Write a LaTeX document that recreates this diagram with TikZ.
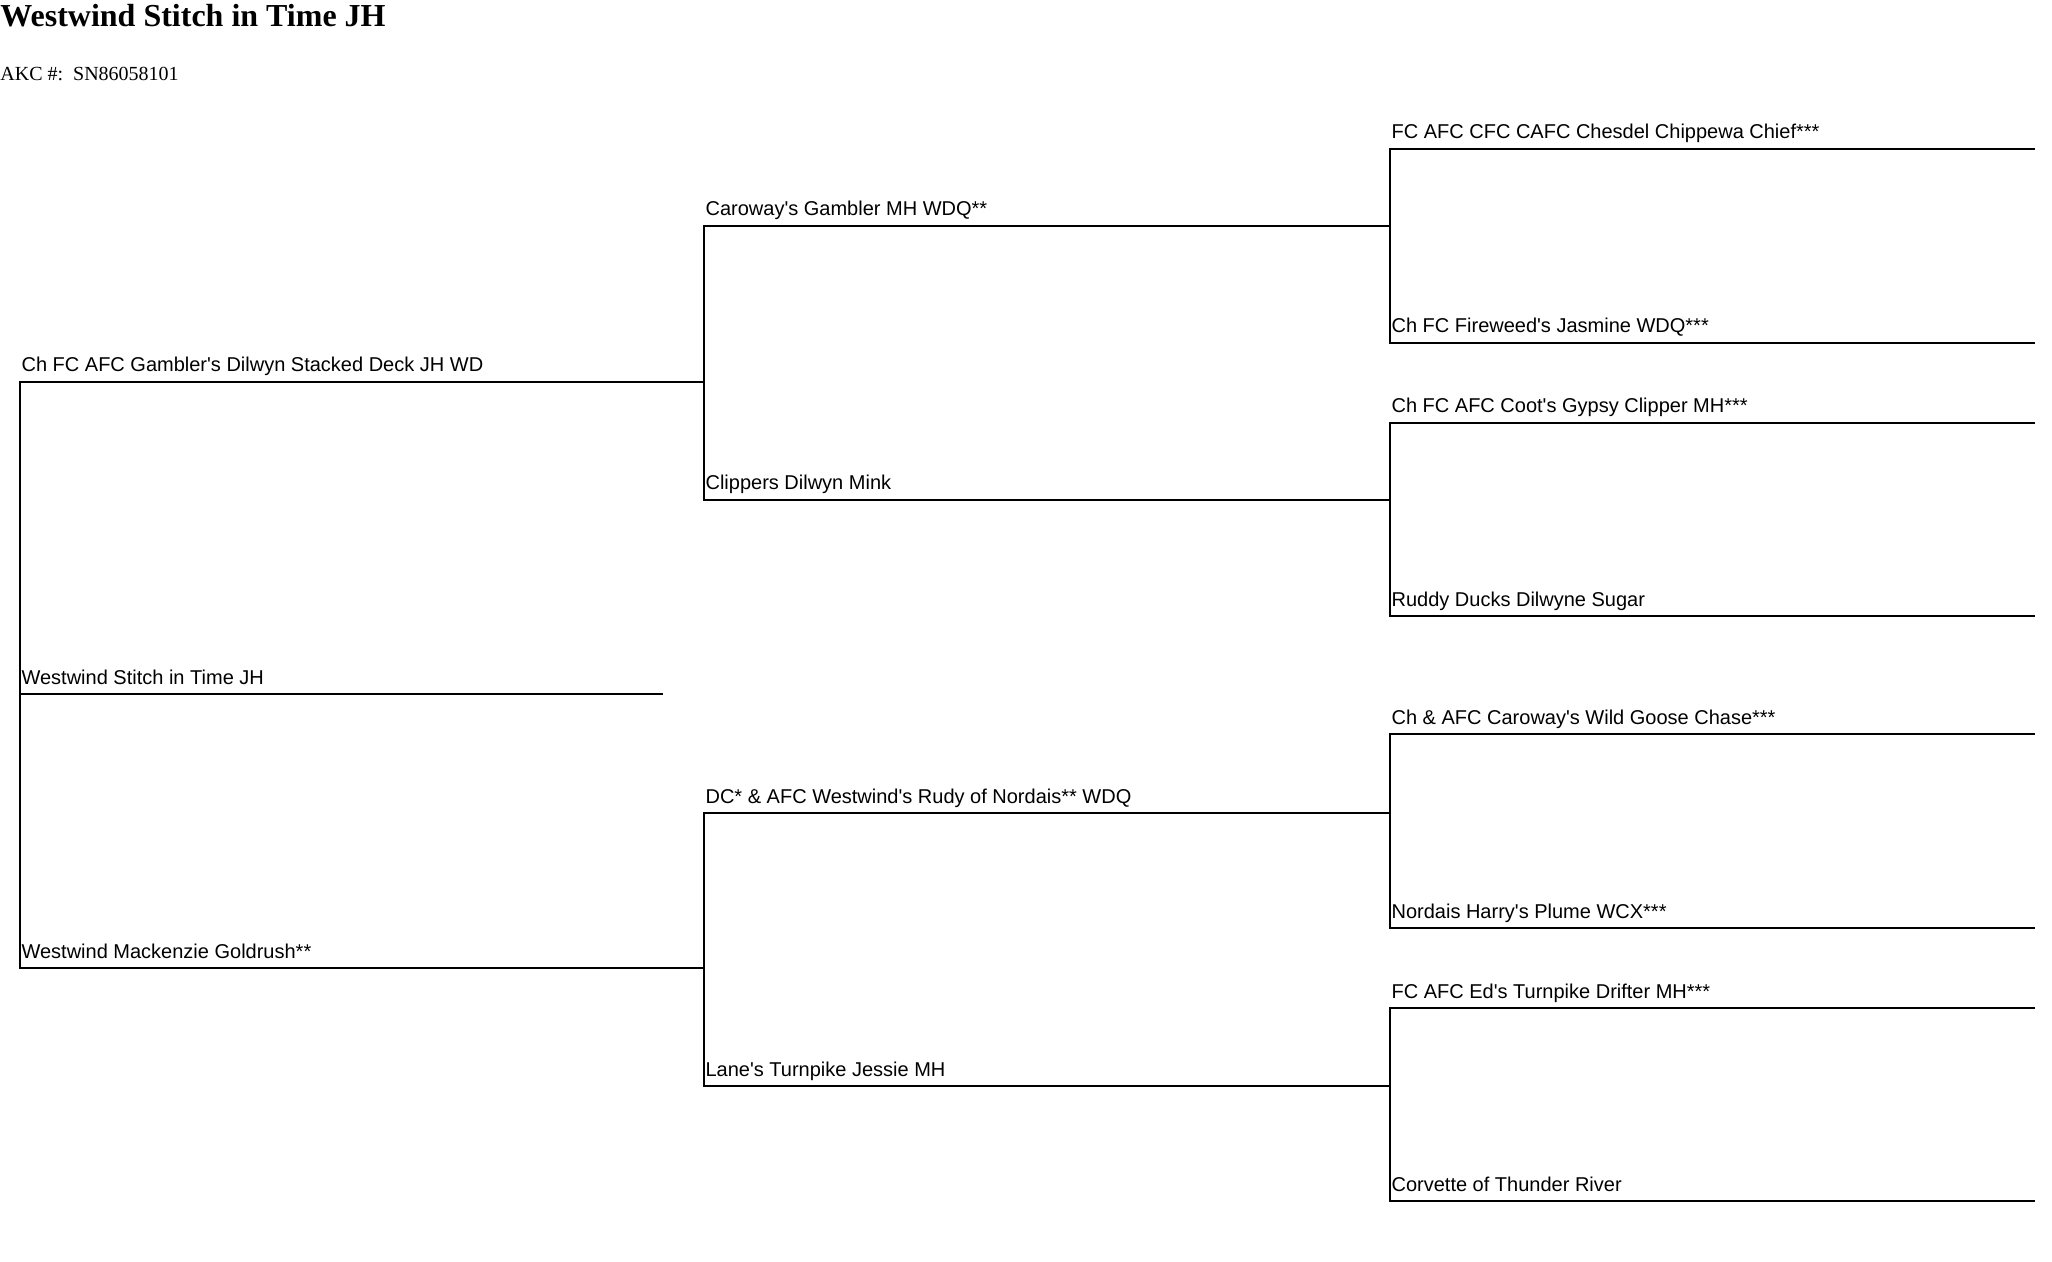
\documentclass[tikz,border=0pt]{standalone}
\usepackage{fontspec}
\setmainfont{Liberation Serif}
\setsansfont{Liberation Sans}
\usetikzlibrary{positioning}
\newcommand{\ap}{\textquotesingle}
\tikzset{
  title/.style={anchor=base west, inner sep=0pt, font=\bfseries\fontsize{16}{19}\selectfont},
  akc/.style={anchor=base west, inner sep=0pt, font=\fontsize{10}{12}\selectfont},
  dog/.style={anchor=base west, inner sep=0pt, font=\sffamily\fontsize{10}{12}\selectfont},
  bracket/.style={line width=1pt, line join=miter}
}
\begin{document}
\begin{tikzpicture}[x=0.5pt, y=-0.5pt]
\useasboundingbox (0,0) rectangle (2052,1262);
\node[title] (title) at (0,27) {Westwind Stitch in Time JH};
\node[akc] (akcno) at (0,81) {AKC \#:\ \ SN86058101};
% line start / end points
\coordinate (dog) at (20,694);    \coordinate (dogE) at (663,694);
\coordinate (s) at (20,382);      \coordinate (sE) at (704,382);
\coordinate (d) at (20,968);      \coordinate (dE) at (704,968);
\coordinate (ss) at (704,226);    \coordinate (ssE) at (1390,226);
\coordinate (sd) at (704,500);    \coordinate (sdE) at (1390,500);
\coordinate (ds) at (704,813);    \coordinate (dsE) at (1390,813);
\coordinate (dd) at (704,1086);   \coordinate (ddE) at (1390,1086);
\foreach \n/\y in {sss/149, ssd/343, sds/423, sdd/616, dss/734, dsd/928, dds/1008, ddd/1201}
  \coordinate (\n) at (1390,\y);
% brackets
\draw[bracket] (dog) -- (dogE);
\draw[bracket] (sE) -- (s) -- (d) -- (dE);
\draw[bracket] (ssE) -- (ss) -- (sd) -- (sdE);
\draw[bracket] (dsE) -- (ds) -- (dd) -- (ddE);
\foreach \a/\b in {sss/ssd, sds/sdd, dss/dsd, dds/ddd}
  \draw[bracket] ([xshift=322.5pt]\a) -- (\a) -- (\b) -- ([xshift=322.5pt]\b);
% names
\tikzset{lbl/.style={dog, xshift=0.6pt, yshift=5pt}}
\node[lbl] (dogL) at (dog) {Westwind Stitch in Time JH};
\node[lbl] (sL) at (s) {Ch FC AFC Gambler\ap s Dilwyn Stacked Deck JH WD};
\node[lbl] (dL) at (d) {Westwind Mackenzie Goldrush**};
\node[lbl] (ssL) at (ss) {Caroway\ap s Gambler MH WDQ**};
\node[lbl] (sdL) at (sd) {Clippers Dilwyn Mink};
\node[lbl] (dsL) at (ds) {DC* \& AFC Westwind\ap s Rudy of Nordais** WDQ};
\node[lbl] (ddL) at (dd) {Lane\ap s Turnpike Jessie MH};
\node[lbl] (sssL) at (sss) {FC AFC CFC CAFC Chesdel Chippewa Chief***};
\node[lbl] (ssdL) at (ssd) {Ch FC Fireweed\ap s Jasmine WDQ***};
\node[lbl] (sdsL) at (sds) {Ch FC AFC Coot\ap s Gypsy Clipper MH***};
\node[lbl] (sddL) at (sdd) {Ruddy Ducks Dilwyne Sugar};
\node[lbl] (dssL) at (dss) {Ch \& AFC Caroway\ap s Wild Goose Chase***};
\node[lbl] (dsdL) at (dsd) {Nordais Harry\ap s Plume WCX***};
\node[lbl] (ddsL) at (dds) {FC AFC Ed\ap s Turnpike Drifter MH***};
\node[lbl] (dddL) at (ddd) {Corvette of Thunder River};
\end{tikzpicture}
\end{document}
